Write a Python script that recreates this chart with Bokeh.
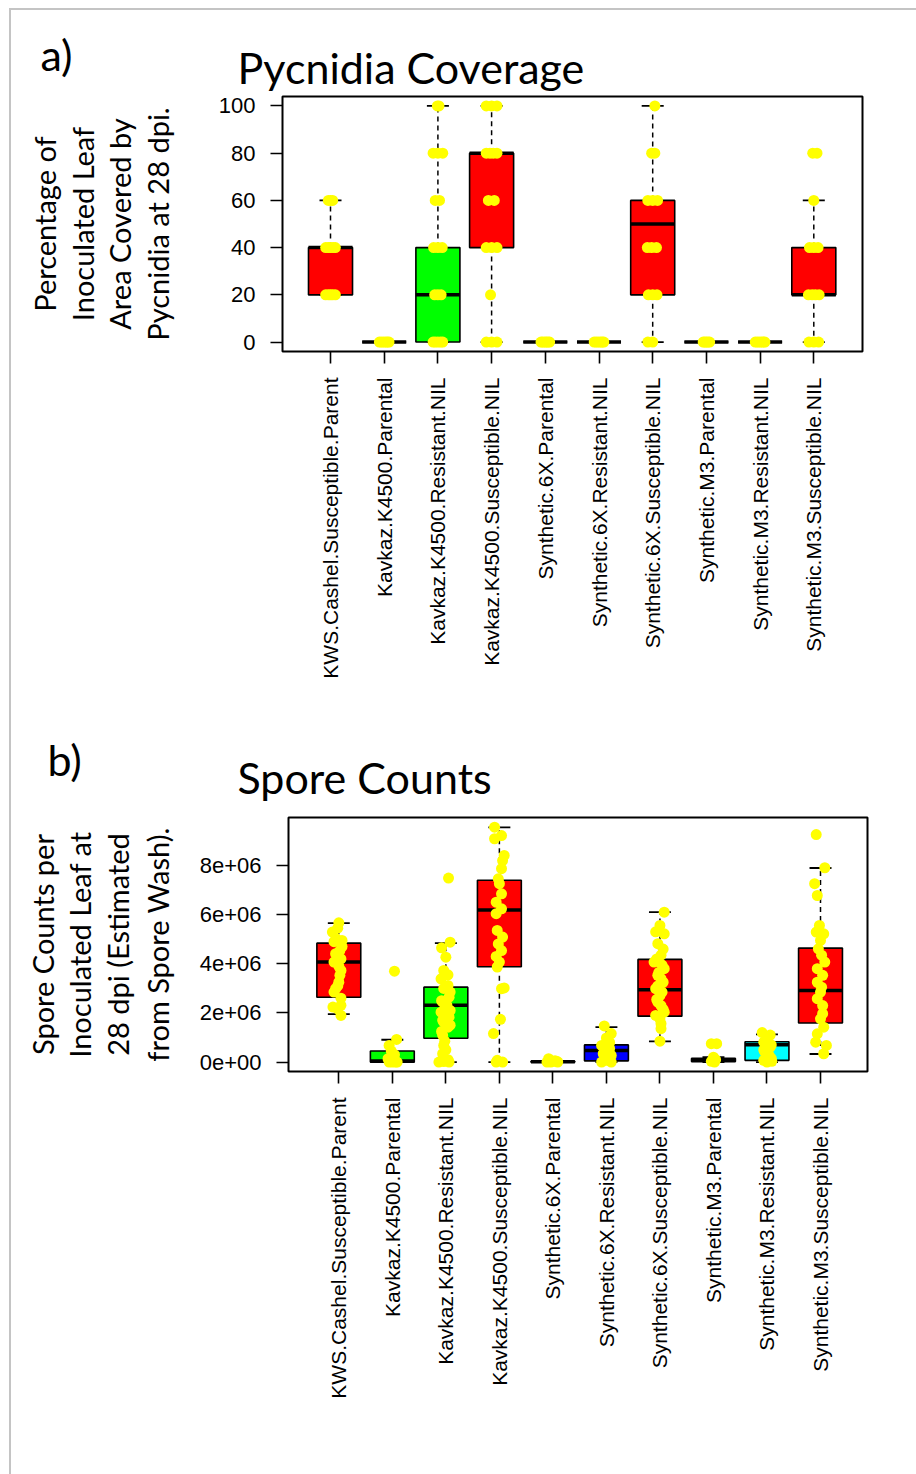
from math import pi
from bokeh.plotting import figure
from bokeh.models import FixedTicker, Title, ColumnDataSource
from bokeh.core.properties import value
from bokeh.embed import file_html
from bokeh.resources import INLINE

categories = ["KWS.Cashel.Susceptible.Parent", "Kavkaz.K4500.Parental",
              "Kavkaz.K4500.Resistant.NIL", "Kavkaz.K4500.Susceptible.NIL",
              "Synthetic.6X.Parental", "Synthetic.6X.Resistant.NIL",
              "Synthetic.6X.Susceptible.NIL", "Synthetic.M3.Parental",
              "Synthetic.M3.Resistant.NIL", "Synthetic.M3.Susceptible.NIL"]
box_colors = ["#FF0000", "#00FF00", "#00FF00", "#FF0000", "#0000FF",
              "#0000FF", "#FF0000", "#00FFFF", "#00FFFF", "#FF0000"]

# ---------- panel a: pycnidia coverage (%) ----------
pyc_ticks = [0, 20, 40, 60, 80, 100]
pyc_q1 = [20, 0, 0, 40, 0, 0, 20, 0, 0, 20]
pyc_med = [40, 0, 20, 80, 0, 0, 50, 0, 0, 20]
pyc_q3 = [40, 0, 40, 80, 0, 0, 60, 0, 0, 40]
pyc_wlo = [20, 0, 0, 0, 0, 0, 0, 0, 0, 0]
pyc_whi = [60, 0, 100, 100, 0, 0, 100, 0, 0, 60]
pyc_points = [
    [20, 20, 20, 20, 20, 40, 40, 40, 40, 40, 60, 60, 60],
    [0, 0, 0, 0, 0, 0],
    [0, 0, 0, 0, 0, 20, 20, 20, 40, 40, 40, 60, 60, 80, 80, 80, 100, 100],
    [0, 0, 0, 20, 40, 40, 40, 60, 60, 80, 80, 80, 80, 100, 100, 100],
    [0, 0, 0, 0, 0, 0],
    [0, 0, 0, 0, 0, 0],
    [0, 0, 20, 20, 20, 40, 40, 40, 60, 60, 60, 80, 80, 100],
    [0, 0, 0, 0, 0],
    [0, 0, 0, 0, 0, 0],
    [0, 0, 0, 20, 20, 20, 20, 40, 40, 40, 60, 80, 80],
]
pyc_jitter = [
    [-0.09, -0.04, 0.0, 0.04, 0.09, -0.09, -0.04, 0.0, 0.05, 0.09, -0.04, 0.0, 0.04],
    [-0.09, -0.05, -0.01, 0.03, 0.06, 0.09],
    [-0.09, -0.05, 0.0, 0.05, 0.09, -0.06, 0.0, 0.06, -0.08, 0.0, 0.08, -0.05, 0.03, -0.09, 0.0, 0.09, -0.01, 0.02],
    [-0.1, 0.0, 0.1, -0.02, -0.1, 0.0, 0.1, -0.06, 0.05, -0.1, -0.03, 0.03, 0.1, -0.1, 0.0, 0.1],
    [-0.08, -0.05, -0.01, 0.02, 0.05, 0.08],
    [-0.09, -0.05, -0.01, 0.03, 0.06, 0.09],
    [-0.09, 0.0, -0.08, 0.0, 0.08, -0.1, -0.02, 0.07, -0.09, 0.0, 0.09, -0.02, 0.04, 0.04],
    [-0.06, -0.03, 0.0, 0.03, 0.06],
    [-0.09, -0.05, -0.01, 0.03, 0.06, 0.09],
    [-0.09, 0.0, 0.09, -0.1, -0.03, 0.03, 0.1, -0.08, 0.0, 0.08, 0.0, -0.02, 0.06],
]

# ---------- panel b: spore counts ----------
spore_ticks = [0, 2e6, 4e6, 6e6, 8e6]
spore_tick_labels = ["0e+00", "2e+06", "4e+06", "6e+06", "8e+06"]
spore_q1 = [2.64e6, 0.0, 0.97e6, 3.88e6, 0.0, 0.05e6, 1.87e6, 0.02e6, 0.07e6, 1.59e6]
spore_med = [4.07e6, 0.04e6, 2.31e6, 6.19e6, 0.01e6, 0.47e6, 2.94e6, 0.10e6, 0.71e6, 2.91e6]
spore_q3 = [4.84e6, 0.45e6, 3.05e6, 7.40e6, 0.03e6, 0.70e6, 4.18e6, 0.15e6, 0.83e6, 4.64e6]
spore_wlo = [1.95e6, 0.0, 0.0, 0.0, 0.0, 0.0, 0.84e6, 0.0, 0.0, 0.33e6]
spore_whi = [5.66e6, 0.91e6, 4.84e6, 9.55e6, 0.05e6, 1.42e6, 6.10e6, 0.20e6, 1.13e6, 7.90e6]
spore_points = [
    [5.67e6, 5.45e6, 5.29e6, 5.02e6, 4.95e6, 4.90e6, 4.70e6, 4.54e6, 4.41e6, 4.20e6, 4.07e6, 3.90e6,
     3.73e6, 3.53e6, 3.25e6, 3.10e6, 2.99e6, 2.85e6, 2.60e6, 2.31e6, 2.24e6, 2.17e6, 1.90e6],
    [3.70e6, 0.92e6, 0.68e6, 0.45e6, 0.30e6, 0.14e6, 0.05e6, 0.02e6, 0.0, 0.0, 0.0, 0.0],
    [7.49e6, 4.88e6, 4.65e6, 4.27e6, 3.73e6, 3.55e6, 3.39e6, 3.12e6, 3.00e6, 2.85e6, 2.64e6, 2.50e6,
     2.44e6, 2.31e6, 2.24e6, 2.10e6, 2.03e6, 1.90e6, 1.83e6, 1.70e6, 1.63e6, 1.50e6, 1.42e6, 1.25e6,
     1.09e6, 0.85e6, 0.68e6, 0.50e6, 0.34e6, 0.10e6, 0.02e6, 0.0, 0.0],
    [9.56e6, 9.22e6, 9.09e6, 8.41e6, 8.20e6, 7.87e6, 7.46e6, 7.26e6, 6.85e6, 6.51e6, 6.24e6, 6.04e6,
     5.36e6, 5.09e6, 4.81e6, 4.54e6, 4.30e6, 4.07e6, 3.87e6, 3.02e6, 2.99e6, 1.74e6, 1.16e6, 0.07e6,
     0.0, 0.0],
    [0.14e6, 0.05e6, 0.03e6, 0.02e6, 0.0, 0.0, 0.0],
    [1.47e6, 1.16e6, 0.98e6, 0.80e6, 0.68e6, 0.55e6, 0.45e6, 0.34e6, 0.27e6, 0.15e6, 0.07e6, 0.0, 0.0],
    [6.10e6, 5.56e6, 5.30e6, 5.22e6, 4.82e6, 4.60e6, 4.35e6, 4.20e6, 4.07e6, 3.95e6, 3.80e6, 3.65e6,
     3.53e6, 3.40e6, 3.25e6, 3.10e6, 2.99e6, 2.85e6, 2.71e6, 2.55e6, 2.44e6, 2.30e6, 2.15e6, 2.03e6,
     1.90e6, 1.75e6, 1.56e6, 1.36e6, 0.85e6],
    [0.75e6, 0.75e6, 0.20e6, 0.10e6, 0.03e6, 0.0],
    [1.20e6, 1.10e6, 0.95e6, 0.81e6, 0.70e6, 0.61e6, 0.50e6, 0.41e6, 0.27e6, 0.15e6, 0.07e6, 0.03e6, 0.0],
    [9.26e6, 7.91e6, 7.26e6, 6.78e6, 5.56e6, 5.29e6, 5.22e6, 4.95e6, 4.61e6, 4.35e6, 4.07e6, 3.80e6,
     3.53e6, 3.25e6, 3.05e6, 2.85e6, 2.58e6, 2.30e6, 1.97e6, 1.76e6, 1.42e6, 1.15e6, 0.81e6, 0.68e6,
     0.34e6],
]
spore_jitter = [
    [0.0, -0.02, -0.12, -0.05, 0.06, -0.09, 0.06, 0.02, -0.06, 0.04, -0.09, 0.0, 0.04, 0.02, 0.0,
     -0.02, -0.06, -0.09, 0.04, 0.04, -0.11, -0.02, 0.04],
    [0.04, 0.08, -0.06, -0.02, 0.04, -0.08, 0.02, -0.04, -0.06, 0.06, 0.0, 0.09],
    [0.05, 0.08, -0.08, 0.0, -0.04, 0.04, -0.09, 0.04, -0.04, 0.08, 0.06, -0.08, -0.06, 0.02, 0.0,
     0.08, -0.09, -0.02, 0.06, -0.06, -0.04, 0.08, 0.04, -0.08, -0.06, -0.02, -0.04, 0.0, -0.06,
     0.04, -0.04, -0.13, 0.06],
    [-0.09, 0.04, -0.09, 0.09, 0.06, 0.04, -0.02, 0.0, 0.04, -0.06, 0.04, -0.06, -0.04, 0.06, -0.02,
     0.04, -0.06, 0.0, -0.04, 0.09, 0.04, 0.02, -0.11, -0.04, -0.06, 0.06],
    [-0.08, 0.04, 0.0, 0.08, -0.11, -0.04, 0.09],
    [-0.04, 0.09, 0.0, 0.06, -0.09, 0.06, -0.02, -0.06, 0.09, 0.02, 0.0, -0.09, 0.09],
    [0.08, 0.0, -0.08, 0.08, -0.04, 0.06, 0.02, -0.06, -0.11, 0.04, 0.08, -0.02, -0.04, 0.02, 0.06,
     -0.04, -0.08, 0.04, 0.0, -0.06, -0.04, 0.02, 0.06, 0.08, -0.08, 0.0, 0.02, 0.02, 0.0],
    [-0.04, 0.06, 0.0, 0.04, -0.04, 0.02],
    [-0.09, 0.06, 0.0, -0.06, 0.08, 0.06, -0.06, -0.04, 0.04, 0.08, -0.06, 0.09, 0.0],
    [-0.08, 0.08, -0.11, -0.06, -0.02, -0.08, 0.06, 0.0, -0.04, 0.02, 0.08, -0.06, 0.04, -0.06, 0.02,
     0.0, -0.06, 0.04, 0.04, 0.0, 0.06, -0.06, -0.09, 0.11, 0.06],
]

panel_a_heading = ["a)", "Pycnidia Coverage"]
panel_a_ylabel = ["Percentage of", "Inoculated Leaf", "Area Covered by", "Pycnidia at 28 dpi."]
panel_b_heading = ["b)", "Spore Counts"]
panel_b_ylabel = ["Spore Counts per", "Inoculated Leaf at", "28 dpi (Estimated", "from Spore Wash)."]

TICK_FONT = "Liberation Sans"
TEXT_FONT = "Lato"
W = 916
FRAME_GRAY = "#c4c4c4"
LEFT_LINE = f"linear-gradient({FRAME_GRAY},{FRAME_GRAY}) 9px 0px / 2px 100% no-repeat"
TOP_LINE = f"linear-gradient({FRAME_GRAY},{FRAME_GRAY}) 9px 8px / 100% 2px no-repeat"
LEFT_LINE_TOP = f"linear-gradient({FRAME_GRAY},{FRAME_GRAY}) 9px 8px / 2px 100% no-repeat"


def heading(height, texts, xs, ys, bg):
    h = figure(width=W, height=height, x_range=(0, W), y_range=(height, 0),
               x_axis_type=None, y_axis_type=None, output_backend="svg",
               toolbar_location=None, min_border=0, outline_line_color=None,
               styles={"background": bg})
    h.grid.visible = False
    h.background_fill_alpha = 0
    h.border_fill_alpha = 0
    h.text(x=xs, y=ys, text=texts, text_font=value(TEXT_FONT),
           text_font_size=value("43px"), text_color="black",
           text_align="left", text_baseline="alphabetic")
    return h


def build_panel(height, borders, xr, yr, yticks, ylabels, q1, med, q3, wlo, whi, pts, jit,
                ylab_lines, ylab_standoff, title_standoffs):
    top, right, bottom, left = borders
    p = figure(width=W, height=height, x_range=xr, y_range=yr,
               output_backend="svg", toolbar_location=None,
               min_border_top=top, min_border_right=right,
               min_border_bottom=bottom, min_border_left=left,
               styles={"background": LEFT_LINE + ", white"})
    p.grid.visible = False
    p.border_fill_alpha = 0
    p.background_fill_color = "white"
    p.outline_line_color = "black"
    p.outline_line_width = 2

    xs = list(range(1, len(categories) + 1))
    hw = 0.41
    src = ColumnDataSource(dict(
        x=xs, left=[x - hw for x in xs], right=[x + hw for x in xs],
        cl=[x - hw / 2 for x in xs], cr=[x + hw / 2 for x in xs],
        q1=q1, med=med, q3=q3, wlo=wlo, whi=whi, color=box_colors))

    p.segment(x0="x", y0="q3", x1="x", y1="whi", source=src, line_color="black",
              line_width=1.5, line_dash="5 4")
    p.segment(x0="x", y0="q1", x1="x", y1="wlo", source=src, line_color="black",
              line_width=1.5, line_dash="5 4")
    p.segment(x0="cl", y0="whi", x1="cr", y1="whi", source=src, line_color="black", line_width=1.8)
    p.segment(x0="cl", y0="wlo", x1="cr", y1="wlo", source=src, line_color="black", line_width=1.8)
    p.quad(left="left", right="right", bottom="q1", top="q3", source=src,
           fill_color="color", line_color="black", line_width=1.6)
    p.segment(x0="left", y0="med", x1="right", y1="med", source=src, line_color="black",
              line_width=3.5)

    px, py = [], []
    for i, (vals, offs) in enumerate(zip(pts, jit)):
        for v, o in zip(vals, offs):
            px.append(i + 1 + o)
            py.append(v)
    p.scatter(px, py, size=11, fill_color="#FFFF00", line_color="#FFFF00", line_width=0)

    p.xaxis.ticker = FixedTicker(ticks=xs)
    p.xaxis.major_label_overrides = {x: c for x, c in zip(xs, categories)}
    p.xaxis.major_label_orientation = pi / 2
    p.yaxis.ticker = FixedTicker(ticks=yticks)
    p.yaxis.major_label_overrides = {t: l for t, l in zip(yticks, ylabels)}
    for ax in (p.xaxis, p.yaxis):
        ax.axis_line_color = None
        ax.major_tick_line_color = "black"
        ax.major_tick_line_width = 1.6
        ax.major_tick_in = 0
        ax.major_tick_out = 12
        ax.minor_tick_line_color = None
        ax.major_label_text_font = TICK_FONT
        ax.major_label_text_color = "black"
    p.xaxis.major_label_text_font_size = "21px"
    p.yaxis.major_label_text_font_size = "22px"
    p.xaxis.major_label_standoff = 14
    p.yaxis.major_label_standoff = 15

    # innermost y-label line is the axis label, the others are stacked titles
    p.yaxis.axis_label = ylab_lines[-1]
    p.yaxis.axis_label_text_font = TEXT_FONT
    p.yaxis.axis_label_text_font_size = "29px"
    p.yaxis.axis_label_text_font_style = "normal"
    p.yaxis.axis_label_text_color = "black"
    p.yaxis.axis_label_standoff = ylab_standoff
    for line, so in zip(reversed(ylab_lines[:-1]), title_standoffs):
        p.add_layout(Title(text=line, align="center", text_font=TEXT_FONT,
                           text_font_size="29px", text_font_style="normal",
                           text_color="black", standoff=so), "left")
    return p


head_a = heading(94, panel_a_heading, [40, 237], [54, 67],
                 TOP_LINE + ", " + LEFT_LINE_TOP + ", white")
pa = build_panel(606, (2, 54, 349, 282), (0.106, 10.907), (-4, 104),
                 pyc_ticks, [str(t) for t in pyc_ticks],
                 pyc_q1, pyc_med, pyc_q3, pyc_wlo, pyc_whi, pyc_points, pyc_jitter,
                 panel_a_ylabel, 41, [0, 0, 1])
head_b = heading(110, panel_b_heading, [47, 237], [59, 77], LEFT_LINE + ", white")
pb = build_panel(664, (7, 49, 403, 288), (0.06, 10.878), (-0.383e6, 9.955e6),
                 spore_ticks, spore_tick_labels,
                 spore_q1, spore_med, spore_q3, spore_wlo, spore_whi, spore_points, spore_jitter,
                 panel_b_ylabel, 22, [3, 0, 0])

open("out.html", "w").write(file_html([head_a, pa, head_b, pb], INLINE))
